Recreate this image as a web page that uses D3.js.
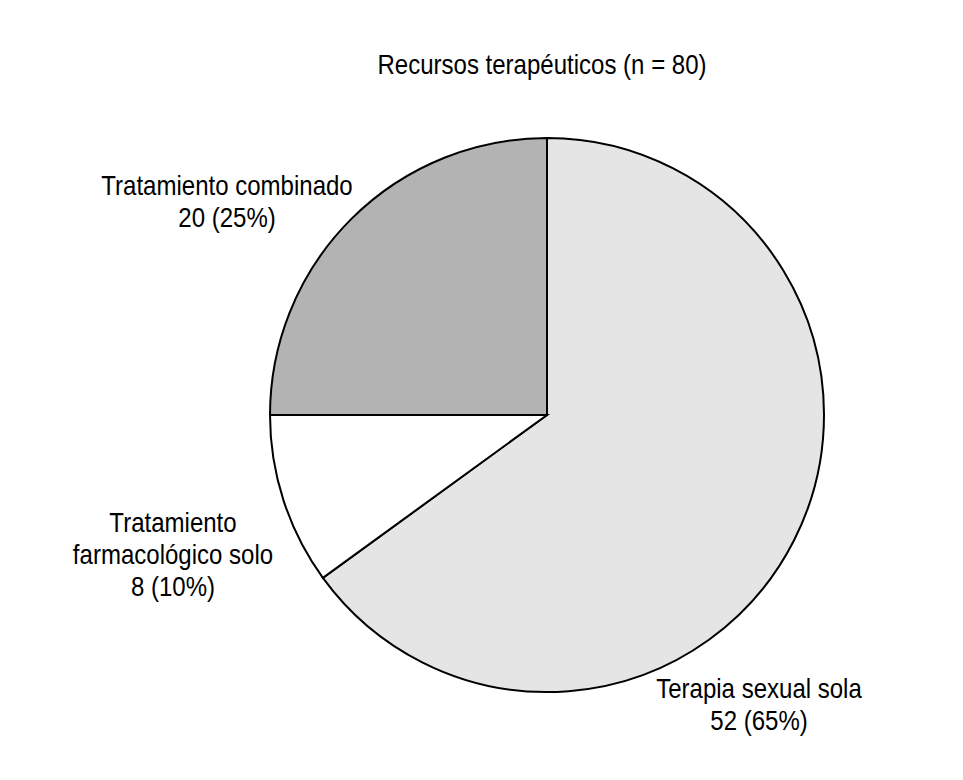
<!DOCTYPE html>
<html><head><meta charset="utf-8">
<script src="https://cdn.jsdelivr.net/npm/d3@7"></script>
<style>body{margin:0;background:#fff}text{font-family:"Liberation Sans","Arial",sans-serif;fill:#000}</style>
</head><body><svg id="c" width="963" height="780"></svg>
<script>
const title = "Recursos terapéuticos (n = 80)";
const categories = ["Terapia sexual sola", "Tratamiento farmacológico solo", "Tratamiento combinado"];
const counts = [52, 8, 20];
const percents = ["65%", "10%", "25%"];
const colors = ["#e5e5e5", "#ffffff", "#b3b3b3"];
const labelLines = [["Terapia sexual sola", "52 (65%)"], ["Tratamiento", "farmacológico solo", "8 (10%)"], ["Tratamiento combinado", "20 (25%)"]];
const labelPos = [[759, 689], [173, 523], [227, 186]];

const svg = d3.select("#c");
const cx = 547, cy = 415, r = 277;
const sx = 0.89;
const pie = d3.pie().sort(null).value(d => d)(counts);
const arc = d3.arc().innerRadius(0).outerRadius(r);
const g = svg.append("g").attr("transform", `translate(${cx},${cy})`);
g.selectAll("path").data(pie).join("path")
  .attr("d", arc).attr("fill", (d, i) => colors[i])
  .attr("stroke", "#000").attr("stroke-width", 2).attr("stroke-linejoin", "miter");

svg.append("g").attr("transform", `translate(542,74) scale(${sx},1)`)
  .append("text").attr("text-anchor", "middle").attr("font-size", 27).text(title);

labelLines.forEach((lines, i) => {
  const t = svg.append("g").attr("transform", `translate(${labelPos[i][0]},${labelPos[i][1] + 9}) scale(${sx},1)`)
    .append("text").attr("text-anchor", "middle").attr("font-size", 27);
  lines.forEach((l, j) => t.append("tspan").attr("x", 0).attr("dy", j ? 32 : 0).text(l));
});
</script></body></html>
